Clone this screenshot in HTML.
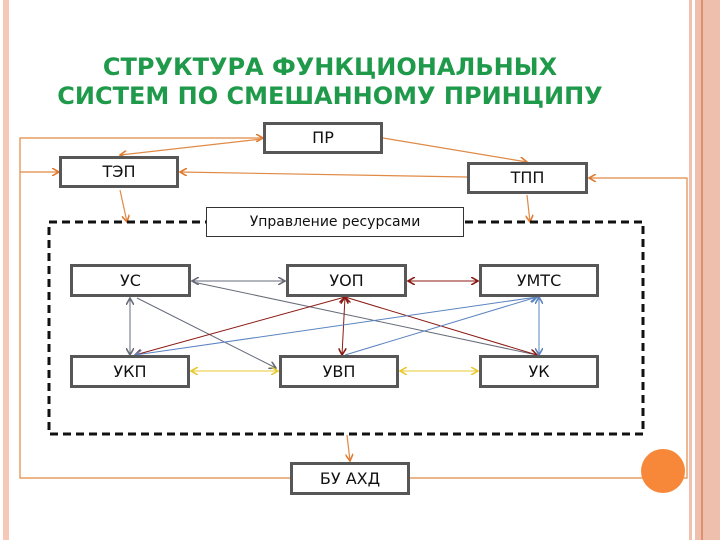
<!DOCTYPE html>
<html><head><meta charset="utf-8"><style>
body{margin:0;width:720px;height:540px;background:#fff;overflow:hidden;position:relative;font-family:"Liberation Sans","DejaVu Sans",sans-serif}
.t{position:absolute;left:0;width:660px;text-align:center;color:#1f9a4b;font-weight:bold;font-size:24px;font-family:"DejaVu Sans",sans-serif}
.b{position:absolute;border:3px solid #575757;background:#fff;box-sizing:border-box;text-align:center;font-size:16px;font-family:"DejaVu Sans",sans-serif;color:#111}
</style></head><body>
<div style="position:absolute;left:3px;top:0;width:6px;height:540px;background:#f5c8b8"></div>
<div style="position:absolute;left:689px;top:0;width:3px;height:540px;background:#f2c0ae"></div>
<div style="position:absolute;left:695px;top:0;width:25px;height:540px;background:#efbfae"></div>
<div style="position:absolute;left:701px;top:0;width:2px;height:540px;background:#e0906e"></div>
<div class="t" style="top:53px">СТРУКТУРА ФУНКЦИОНАЛЬНЫХ</div>
<div class="t" style="top:82px">СИСТЕМ ПО СМЕШАННОМУ ПРИНЦИПУ</div>
<svg width="720" height="540" style="position:absolute;left:0;top:0">
<defs>
<marker id="ao" markerWidth="8" markerHeight="8" refX="7" refY="4" orient="auto-start-reverse" markerUnits="userSpaceOnUse"><path d="M0,0L7,4L0,8" fill="none" stroke="#e07a30" stroke-width="1.6"/></marker>
<marker id="ag" markerWidth="8" markerHeight="8" refX="7" refY="4" orient="auto-start-reverse" markerUnits="userSpaceOnUse"><path d="M0,0L7,4L0,8" fill="none" stroke="#666c78" stroke-width="1.6"/></marker>
<marker id="ar" markerWidth="8" markerHeight="8" refX="7" refY="4" orient="auto-start-reverse" markerUnits="userSpaceOnUse"><path d="M0,0L7,4L0,8" fill="none" stroke="#8b1a14" stroke-width="1.6"/></marker>
<marker id="ab" markerWidth="8" markerHeight="8" refX="7" refY="4" orient="auto-start-reverse" markerUnits="userSpaceOnUse"><path d="M0,0L7,4L0,8" fill="none" stroke="#5b84c0" stroke-width="1.6"/></marker>
<marker id="ay" markerWidth="8" markerHeight="8" refX="7" refY="4" orient="auto-start-reverse" markerUnits="userSpaceOnUse"><path d="M0,0L7,4L0,8" fill="none" stroke="#e8c830" stroke-width="1.6"/></marker>
</defs>
<g stroke="#e08a45" stroke-width="1.2" fill="none">
<path d="M262,138H20V478H290"/><path d="M409,478H687V178H589" marker-end="url(#ao)"/>
<line x1="262" y1="138" x2="263" y2="138" marker-end="url(#ao)"/>
<line x1="20" y1="172" x2="59" y2="172" marker-end="url(#ao)"/>
<line x1="262" y1="139" x2="120" y2="155" marker-end="url(#ao)"/>
<line x1="467" y1="177" x2="180" y2="172" marker-end="url(#ao)"/>
<line x1="383" y1="138" x2="527" y2="162" marker-end="url(#ao)"/>
<line x1="120" y1="190" x2="127" y2="222" marker-end="url(#ao)"/>
<line x1="527" y1="195" x2="530" y2="222" marker-end="url(#ao)"/>
<line x1="347" y1="435" x2="350" y2="461" marker-end="url(#ao)"/>
</g>
<rect x="49" y="222" width="594" height="212" fill="none" stroke="#111" stroke-width="3" stroke-dasharray="8,5"/>
<g stroke-width="1" fill="none">
<line x1="192" y1="281" x2="285" y2="281" stroke="#666c78" marker-start="url(#ag)" marker-end="url(#ag)"/>
<line x1="130" y1="298" x2="130" y2="355" stroke="#666c78" marker-start="url(#ag)" marker-end="url(#ag)"/>
<line x1="137" y1="298" x2="276" y2="368" stroke="#666c78" marker-end="url(#ag)"/>
<line x1="193" y1="282" x2="537" y2="355" stroke="#666c78"/>
<line x1="408" y1="281" x2="478" y2="281" stroke="#8b1a14" marker-start="url(#ar)" marker-end="url(#ar)"/>
<line x1="345" y1="297" x2="135" y2="355" stroke="#8b1a14" marker-start="url(#ar)" marker-end="url(#ar)"/>
<line x1="345" y1="297" x2="342" y2="355" stroke="#8b1a14" marker-start="url(#ar)" marker-end="url(#ar)"/>
<line x1="345" y1="297" x2="537" y2="355" stroke="#8b1a14" marker-start="url(#ar)" marker-end="url(#ar)"/>
<line x1="537" y1="297" x2="135" y2="355" stroke="#5b84c0" marker-start="url(#ab)" marker-end="url(#ab)"/>
<line x1="537" y1="297" x2="345" y2="355" stroke="#5b84c0" marker-start="url(#ab)"/>
<line x1="539" y1="297" x2="539" y2="355" stroke="#5b84c0" marker-start="url(#ab)" marker-end="url(#ab)"/>
<line x1="191" y1="371" x2="278" y2="371" stroke="#e8c830" marker-start="url(#ay)" marker-end="url(#ay)"/>
<line x1="400" y1="371" x2="478" y2="371" stroke="#e8c830" marker-start="url(#ay)" marker-end="url(#ay)"/>
</g>
<circle cx="663" cy="471" r="22" fill="#f7883a"/>
</svg>
<div class="b" style="left:263px;top:122px;width:120px;height:32px;line-height:26px">ПР</div>
<div class="b" style="left:59px;top:156px;width:120px;height:32px;line-height:26px">ТЭП</div>
<div class="b" style="left:467px;top:162px;width:121px;height:32px;line-height:26px">ТПП</div>
<div class="b" style="left:206px;top:207px;width:258px;height:30px;line-height:28px;border:1px solid #333;font-size:14px">Управление ресурсами</div>
<div class="b" style="left:70px;top:264px;width:121px;height:33px;line-height:27px">УС</div>
<div class="b" style="left:286px;top:264px;width:121px;height:33px;line-height:27px">УОП</div>
<div class="b" style="left:479px;top:264px;width:120px;height:33px;line-height:27px">УМТС</div>
<div class="b" style="left:70px;top:355px;width:120px;height:33px;line-height:27px">УКП</div>
<div class="b" style="left:279px;top:355px;width:120px;height:33px;line-height:27px">УВП</div>
<div class="b" style="left:479px;top:355px;width:120px;height:33px;line-height:27px">УК</div>
<div class="b" style="left:290px;top:462px;width:120px;height:33px;line-height:27px">БУ АХД</div>
</body></html>
